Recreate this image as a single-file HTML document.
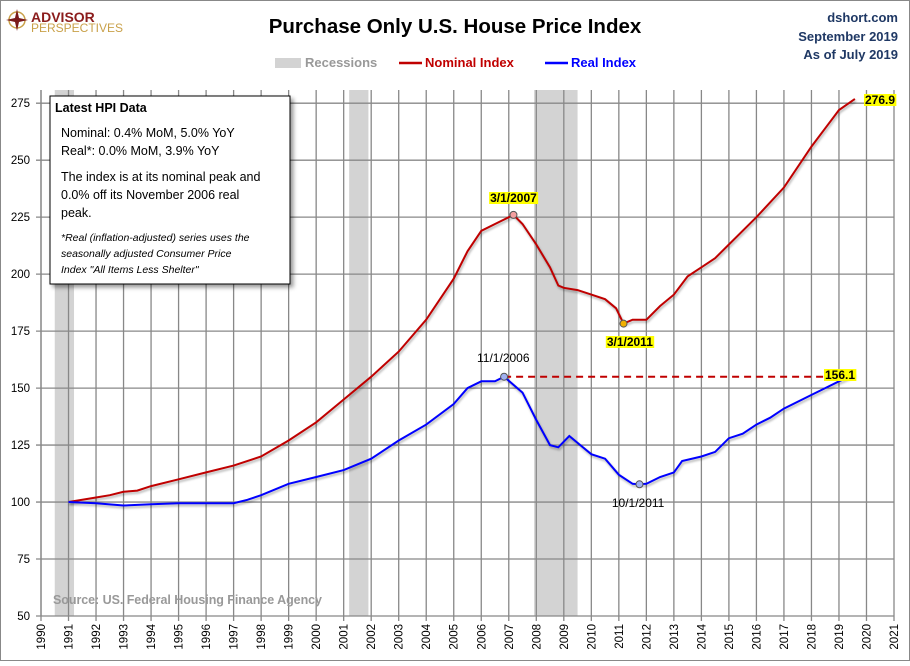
<!DOCTYPE html>
<html><head><meta charset="utf-8"><style>
body{margin:0;background:#fff;}
#wrap{position:relative;width:910px;height:661px;font-family:"Liberation Sans",sans-serif;}
svg text{font-family:"Liberation Sans",sans-serif;}
</style></head><body>
<div id="wrap">
<svg id="chart" width="910" height="661" viewBox="0 0 910 661" xmlns="http://www.w3.org/2000/svg">
<rect x="0.5" y="0.5" width="909" height="660" fill="#fff" stroke="#888"/>
<g id="recessions"></g>
<g id="grid"></g>
<g id="axes"></g>
<g id="series"></g>
<g>
<circle cx="17" cy="20" r="8" fill="none" stroke="#c9a14a" stroke-width="1.5"/>
<path d="M17 9 L19 18 L28 20 L19 22 L17 31 L15 22 L6 20 L15 18 Z" fill="#7a1a1a"/>
<text x="31" y="22" font-size="14" font-weight="bold" fill="#8b1c1c">ADVISOR</text>
<text x="31" y="32" font-size="12" fill="#c9a14a">PERSPECTIVES</text>
</g>
<text x="455" y="33" font-size="20.5" font-weight="bold" text-anchor="middle" fill="#000">Purchase Only U.S. House Price Index</text>
<g font-size="13" font-weight="bold" fill="#1f3864" text-anchor="end">
<text x="898" y="22">dshort.com</text>
<text x="898" y="41">September 2019</text>
<text x="898" y="59">As of July 2019</text>
</g>
<g>
<rect x="275" y="58" width="26" height="10" fill="#d3d3d3"/>
<text x="305" y="67" font-size="13" font-weight="bold" fill="#999">Recessions</text>
<line x1="399" y1="63" x2="422" y2="63" stroke="#c00000" stroke-width="2.5"/>
<text x="425" y="67" font-size="13" font-weight="bold" fill="#c00000">Nominal Index</text>
<line x1="545" y1="63" x2="568" y2="63" stroke="#0000ff" stroke-width="2.5"/>
<text x="571" y="67" font-size="13" font-weight="bold" fill="#0000ff">Real Index</text>
</g>
<text x="53" y="604" font-size="12.5" font-weight="bold" fill="#999" textLength="269">Source: US. Federal Housing Finance Agency</text>
<g>
<rect x="50" y="96" width="240" height="188" fill="#fff" stroke="#000" style="filter:drop-shadow(3px 3px 2px rgba(0,0,0,.4))"/>
<text x="55" y="112" font-size="12.5" font-weight="bold">Latest HPI Data</text>
<text x="61" y="137" font-size="12.5">Nominal:  0.4% MoM, 5.0% YoY</text>
<text x="61" y="155" font-size="12.5">Real*:  0.0% MoM, 3.9% YoY</text>
<text x="61" y="181" font-size="12.5">The index is at its nominal peak and</text>
<text x="61" y="199" font-size="12.5">0.0% off its November 2006 real</text>
<text x="61" y="217" font-size="12.5">peak.</text>
<text x="61" y="241" font-size="10.5" font-style="italic">*Real (inflation-adjusted) series uses the</text>
<text x="61" y="257" font-size="10.5" font-style="italic">seasonally adjusted Consumer Price</text>
<text x="61" y="273" font-size="10.5" font-style="italic">Index "All Items Less Shelter"</text>
</g>
<g id="annos"></g>
</svg>
</div>
<script>
const years=[1990,1991,1992,1993,1994,1995,1996,1997,1998,1999,2000,2001,2002,2003,2004,2005,2006,2007,2008,2009,2010,2011,2012,2013,2014,2015,2016,2017,2018,2019,2020,2021];
const yTicks=[50,75,100,125,150,175,200,225,250,275];
const recessionStart=[1990.5,2001.2,2007.92];
const recessionEnd=[1991.2,2001.9,2009.5];
const nomX=[1991,1991.5,1992,1992.5,1993,1993.5,1994,1995,1996,1997,1998,1999,2000,2001,2002,2003,2004,2005,2005.5,2006,2006.5,2007.17,2007.5,2008,2008.5,2008.8,2009,2009.5,2010,2010.5,2010.9,2011.17,2011.5,2012,2012.5,2013,2013.5,2014,2014.5,2015,2016,2017,2018,2018.5,2019,2019.58];
const nomY=[100,101,102,103,104.5,105,107,110,113,116,120,127,135,145,155,166,180,198,210,219,222,226,222,213,203,195,194,193,191,189,185,178.3,180,180,186,191,199,203,207,213,225,238,256,264,272,276.9];
const realX=[1991,1992,1993,1994,1995,1996,1997,1997.5,1998,1999,2000,2001,2002,2003,2004,2005,2005.5,2006,2006.5,2006.83,2007.5,2008,2008.5,2008.8,2009.2,2009.6,2010,2010.5,2011,2011.5,2011.75,2012,2012.5,2013,2013.3,2014,2014.5,2015,2015.5,2016,2016.5,2017,2018,2018.5,2019,2019.58];
const realY=[100,99.5,98.5,99,99.5,99.5,99.5,101,103,108,111,114,119,127,134,143,150,153,153,155,148,136,125,124,129,125,121,119,112,108,107.8,108,111,113,118,120,122,128,130,134,137,141,147,150,153,156.1];
const X0=41,X1=894,Y0=616,Y1=103.2,YMIN=50,YMAX=275;
const xs=y=>X0+(y-1990)*(X1-X0)/31;
const ys=v=>Y0-(v-YMIN)*(Y0-Y1)/(YMAX-YMIN);
const NS="http://www.w3.org/2000/svg";
function mk(tag,attrs,parent){const e=document.createElementNS(NS,tag);for(const k in attrs)e.setAttribute(k,attrs[k]);parent.appendChild(e);return e;}
const rg=document.getElementById('recessions'),gg=document.getElementById('grid'),ag=document.getElementById('axes'),sg=document.getElementById('series'),an=document.getElementById('annos');
recessionStart.forEach((s,i)=>{const r=mk('rect',{x:xs(s),y:90,width:xs(recessionEnd[i])-xs(s),height:Y0-90,fill:'#d3d3d3'},rg);

});
years.forEach(y=>{const l=mk('line',{x1:xs(y),y1:90,x2:xs(y),y2:Y0+5,stroke:'#888','stroke-width':1.3},gg);


const t=mk('text',{x:0,y:0,'font-size':11.5,'text-anchor':'end',transform:`translate(${xs(y)+4},${Y0+8}) rotate(-90)`},ag);
t.textContent=y;

});
yTicks.forEach(v=>{const l=mk('line',{x1:X0-5,y1:ys(v),x2:X1,y2:ys(v),stroke:'#888','stroke-width':1.3},gg);


const t=mk('text',{x:30,y:ys(v)+4,'font-size':11.5,'text-anchor':'end'},ag);
t.textContent=v;

});
mk('line',{x1:X0,y1:90,x2:X0,y2:Y0,stroke:'#888','stroke-width':1.3},ag);
function path(xa,ya){return xa.map((x,i)=>(i?'L':'M')+xs(x).toFixed(1)+' '+ys(ya[i]).toFixed(1)).join(' ');}
const dash=mk('line',{x1:xs(2006.83),y1:ys(realY[19]),x2:xs(2019.58),y2:ys(realY[19]),stroke:'#c00000','stroke-width':2,'stroke-dasharray':'7,5'},sg);


const pn=mk('path',{d:path(nomX,nomY),fill:'none',stroke:'#c00000','stroke-width':2,style:'filter:drop-shadow(1px 2px 1px rgba(0,0,0,.3))'},sg);


const pr=mk('path',{d:path(realX,realY),fill:'none',stroke:'#0000ff','stroke-width':2,style:'filter:drop-shadow(1px 2px 1px rgba(0,0,0,.3))'},sg);


function marker(x,v,fill,name){const c=mk('circle',{cx:xs(x),cy:ys(v),r:3.5,fill:fill,stroke:'#555'},an);

}
marker(2007.17,226,'#f4a0a0','nominal-peak-marker');
marker(2011.17,178.3,'#f0b000','nominal-trough-marker');
marker(2006.83,155,'#a0b0f0','real-peak-marker');
marker(2011.75,107.8,'#a0b0f0','real-trough-marker');
function label(x,y,txt,hl,name){const t=mk('text',{x:x,y:y,'font-size':12,'text-anchor':'middle'},an);t.textContent=txt;


if(hl){t.setAttribute('font-weight','bold');const b=t.getBBox();const r=mk('rect',{x:b.x-1,y:b.y+1,width:b.width+2,height:b.height-2,fill:'#ffff00'},an);an.insertBefore(r,t);}}
label(xs(2007.17),202,'3/1/2007',true,'nominal-peak-label');
label(xs(2011.4),346,'3/1/2011',true,'nominal-trough-label');
label(xs(2006.8),362,'11/1/2006',false,'real-peak-label');
label(xs(2011.7),507,'10/1/2011',false,'real-trough-label');
label(880,104,'276.9',true,'nominal-last-label');
label(840,379,'156.1',true,'real-last-label');
</script>
</body></html>
